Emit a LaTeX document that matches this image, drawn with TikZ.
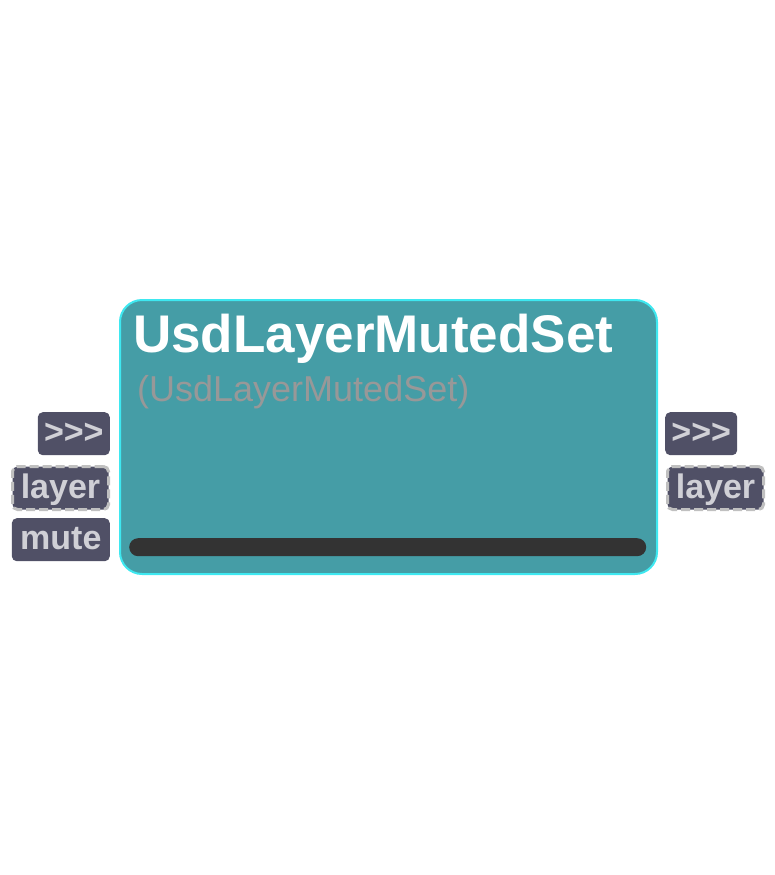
\documentclass[tikz,border=0pt]{standalone}
\usepackage{fontspec}
\setmainfont{Liberation Sans}
\usetikzlibrary{positioning}
\definecolor{nodeteal}{RGB}{69, 157, 166}
\definecolor{nodeedge}{RGB}{62, 232, 240}
\definecolor{portbg}{RGB}{80, 80, 102}
\definecolor{porttext}{RGB}{208, 208, 214}
\definecolor{portedge}{RGB}{192, 192, 192}
\definecolor{barbg}{RGB}{51, 51, 51}
\definecolor{subgray}{RGB}{152, 152, 152}

\begin{document}
\begin{tikzpicture}[
    x=1pt, y=-1pt,
    card/.style={rectangle, draw=nodeedge, line width=2pt, fill=nodeteal, rounded corners=22pt, minimum width=537pt, minimum height=274pt, inner sep=0pt, anchor=north west},
    port/.style={rectangle, fill=portbg, rounded corners=5pt, minimum height=43pt, inner sep=0pt, text=porttext, font=\bfseries\fontsize{34}{34}\selectfont, text height=24pt, text depth=4pt},
    linkport/.style={port, draw=portedge, line width=3pt, dash pattern=on 9pt off 4pt},
    bar/.style={rectangle, fill=barbg, rounded corners=9pt, minimum width=517pt, minimum height=18pt, inner sep=0pt, anchor=north west}
  ]
    \useasboundingbox (0,0) rectangle (775,875);

    % node body
    \node (usd) [card] at (119,299) {};
    \node (title) [anchor=base west, inner sep=0pt, text=white, font=\bfseries\fontsize{53}{53}\selectfont] at (133,352) {UsdLayerMutedSet};
    \node (subtitle) [anchor=base west, inner sep=0pt, text=subgray, font=\fontsize{36}{36}\selectfont] at (137,401) {(UsdLayerMutedSet)};
    \node (progress) [bar] at (129,538) {};

    % inputs
    \node (inexec) [port, minimum width=72pt, anchor=north east] at (110,412) {{>}{>}{>}};
    \node (inlayer) [linkport, minimum width=96pt, anchor=north east] at (110,465) {layer};
    \node (inmute) [port, minimum width=98pt, anchor=north east] at (110,518) {mute};

    % outputs
    \node (outexec) [port, minimum width=72pt, anchor=north west] at (665,412) {{>}{>}{>}};
    \node (outlayer) [linkport, minimum width=96pt, anchor=north west] at (666,465) {layer};
  \end{tikzpicture}
\end{document}
